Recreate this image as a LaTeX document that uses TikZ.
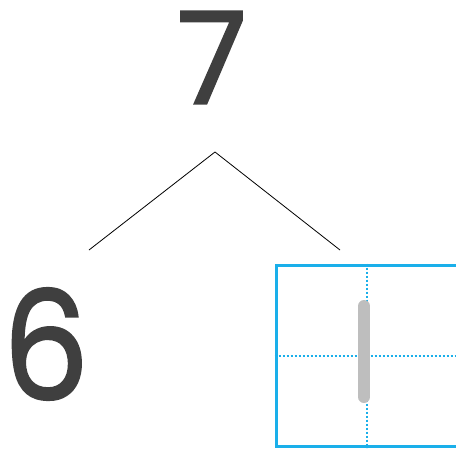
\documentclass[tikz,border=0pt]{standalone}
\usepackage{fontspec}
\setmainfont{Poppins}[FakeBold=1.6]
\usetikzlibrary{positioning,calc}
\definecolor{ink}{HTML}{3F3F3F}
\definecolor{cyanline}{HTML}{1AAFEA}
\definecolor{bar}{HTML}{BEBEBE}
\tikzset{digit/.style={inner sep=0pt,text=ink},branch/.style={draw=black,line width=0.8pt},cell/.style={draw=cyanline,line width=3pt,minimum width=182pt,minimum height=181pt,inner sep=0pt},guide/.style={draw=cyanline,line width=2pt,dash pattern=on 2pt off 2pt}}

\begin{document}
\begin{tikzpicture}[x=1pt,y=-1pt]
\useasboundingbox (0,0) rectangle (456,448);
\node[digit,font=\fontsize{128}{128}\selectfont] (seven) at (212,57.5) {7};
\node[digit,font=\fontsize{151}{151}\selectfont,xscale=0.9] (six) at (46,344) {6};
\node[cell] (grid) at (367,355.5) {};
\coordinate (apex) at (215,152);
\coordinate (leftend) at (89,250);
\coordinate (rightend) at (340,250);
\draw[branch](apex)--(leftend);
\draw[branch](apex)--(rightend);
\draw[guide](grid.north)--(grid.south);
\draw[guide](grid.west)--(grid.east);
\draw[bar,line width=12pt,line cap=round](364,306)--(364,397);
\end{tikzpicture}
\end{document}
